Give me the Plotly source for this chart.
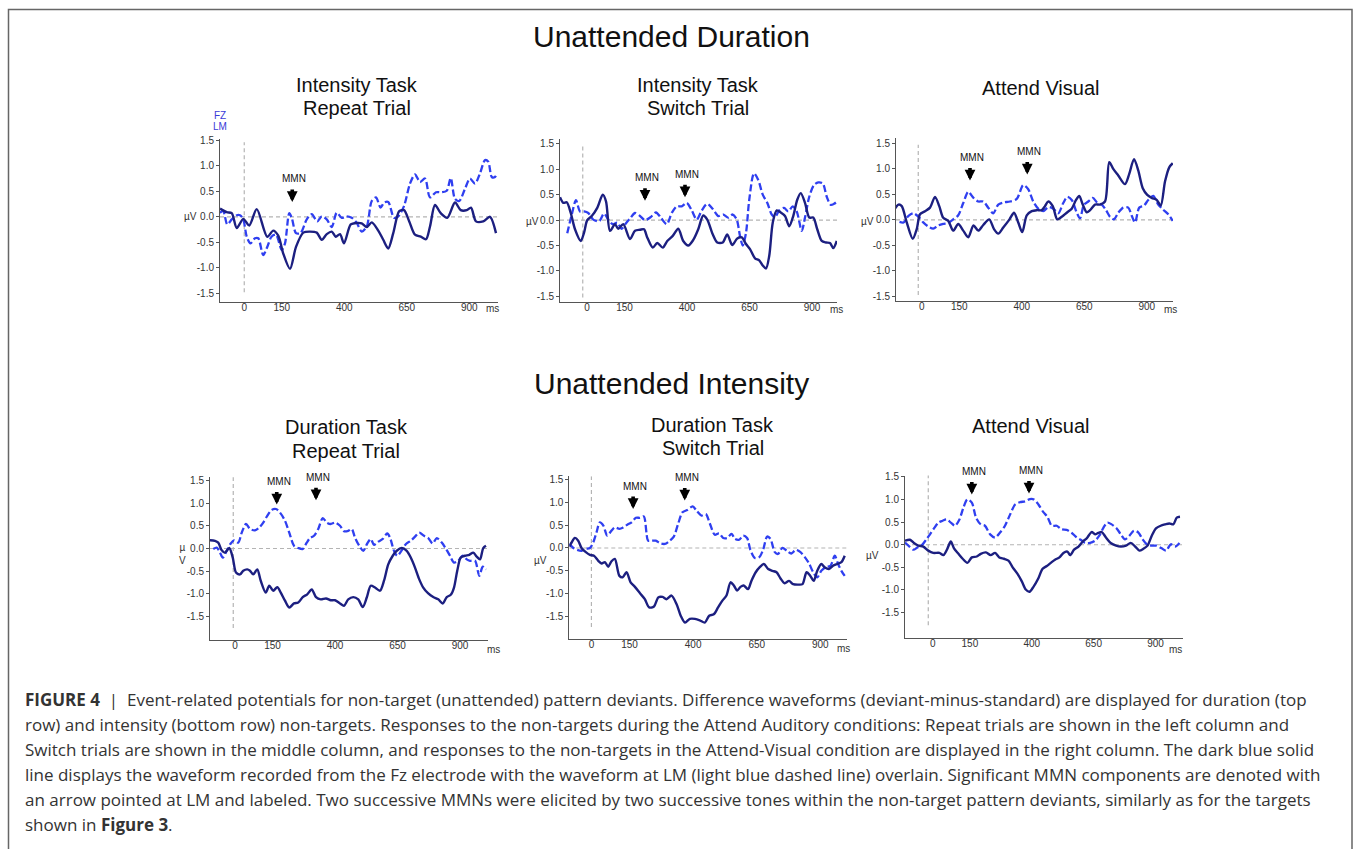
import plotly.graph_objects as go

W, H = 1356, 849

FZ_COLOR = "#1c1f80"
LM_COLOR = "#2f3ff0"
AXIS_COLOR = "#555555"
TEXT_COLOR = "#333333"
REF_LINE = "#b4b4b4"
PLOT_FONT = "Arial, Liberation Sans, sans-serif"
CAPTION_FONT = "Open Sans, Arial, sans-serif"

# ---------------- waveforms: (time in ms, amplitude in µV) ----------------
# Unattended duration / Intensity task / Repeat trial
P1_FZ = [(-97, 0.16), (-70, 0.09), (-50, 0.07), (-30, -0.22), (-4, -0.04), (20, -0.17), (50, 0.15),
         (92, -0.39), (116, -0.27), (136, -0.37), (156, -0.72), (183, -1.02), (207, -0.59), (236, -0.31),
         (263, -0.29), (290, -0.31), (310, -0.45), (330, -0.34), (350, -0.29), (366, -0.39), (383, -0.34),
         (399, -0.52), (426, -0.15), (450, -0.12), (470, -0.13), (490, -0.20), (510, -0.11), (536, -0.27),
         (556, -0.45), (576, -0.62), (596, -0.32), (620, 0.11), (639, 0.13), (660, -0.09), (683, -0.35),
         (706, -0.39), (727, -0.44), (743, -0.19), (763, 0.23), (786, 0.07), (812, -0.02), (843, 0.28),
         (866, 0.13), (890, 0.13), (907, 0.18), (927, -0.09), (956, -0.09), (983, 0.0), (1007, -0.32)]
P1_LM = [(-97, 0.08), (-84, 0.11), (-68, -0.15), (-50, -0.05), (-30, 0.03), (-17, 0.03), (-4, -0.05),
         (10, -0.39), (25, -0.52), (43, -0.42), (56, -0.42), (76, -0.75), (92, -0.59), (109, -0.39),
         (127, -0.35), (150, -0.65), (163, -0.52), (180, 0.07), (190, -0.02), (207, -0.32), (225, -0.32),
         (250, -0.05), (270, 0.05), (292, -0.09), (310, 0.01), (330, -0.05), (350, -0.20), (370, 0.08),
         (390, -0.02), (410, 0.01), (430, -0.02), (450, -0.12), (470, -0.29), (490, -0.19), (510, 0.31),
         (527, 0.38), (545, 0.18), (560, 0.28), (576, 0.29), (599, -0.02), (616, 0.01), (639, 0.21),
         (663, 0.65), (683, 0.83), (703, 0.68), (723, 0.75), (743, 0.38), (767, 0.48), (790, 0.48),
         (810, 0.51), (826, 0.76), (843, 0.35), (860, 0.31), (883, 0.55), (903, 0.75), (923, 0.65),
         (943, 0.85), (963, 1.11), (976, 1.08), (990, 0.78), (1003, 0.78), (1010, 0.85)]

# Unattended duration / Intensity task / Switch trial
P2_FZ = [(-108, 0.45), (-95, 0.34), (-81, 0.35), (-65, 0.14), (-48, -0.18), (-25, -0.41), (-12, -0.25),
         (1, 0.0), (19, 0.08), (41, 0.24), (63, 0.50), (76, 0.37), (92, -0.21), (112, -0.08), (125, -0.17),
         (145, -0.08), (172, -0.37), (192, -0.21), (212, -0.19), (228, -0.18), (241, -0.34), (263, -0.54),
         (281, -0.45), (303, -0.54), (321, -0.41), (343, -0.31), (365, -0.17), (385, -0.41), (405, -0.50),
         (425, -0.39), (445, -0.18), (465, 0.09), (481, 0.01), (503, -0.28), (521, -0.44), (543, -0.44),
         (561, -0.28), (581, -0.49), (601, -0.36), (619, -0.34), (636, -0.47), (652, -0.57), (672, -0.75),
         (689, -0.79), (703, -0.89), (716, -0.95), (729, -0.70), (743, -0.05), (759, 0.19), (775, 0.15),
         (792, 0.08), (809, -0.12), (825, 0.08), (841, 0.40), (855, 0.53), (872, 0.34), (889, 0.05),
         (905, 0.05), (921, -0.18), (939, -0.41), (956, -0.44), (972, -0.45), (985, -0.55), (999, -0.41)]
P2_LM = [(-79, -0.26), (-61, 0.11), (-44, 0.39), (-28, 0.17), (-12, 0.17), (5, 0.14), (25, 0.01),
         (49, -0.02), (68, 0.13), (85, 0.01), (103, -0.08), (121, -0.05), (139, -0.17), (156, -0.06),
         (175, 0.05), (192, 0.14), (212, 0.08), (232, 0.0), (255, 0.06), (276, 0.15), (295, 0.05),
         (319, -0.08), (339, 0.14), (359, 0.27), (379, 0.27), (399, 0.34), (419, 0.19), (439, 0.01),
         (459, 0.19), (481, 0.32), (503, 0.22), (525, 0.08), (545, 0.11), (565, 0.05), (583, 0.11),
         (599, 0.01), (612, -0.31), (623, -0.50), (636, -0.25), (649, 0.40), (668, 0.92), (685, 0.79),
         (703, 0.50), (721, 0.34), (739, 0.11), (752, 0.06), (769, 0.19), (788, 0.24), (805, 0.17),
         (823, 0.27), (839, 0.17), (859, -0.21), (872, 0.05), (889, 0.46), (908, 0.69), (925, 0.74),
         (943, 0.72), (959, 0.46), (975, 0.30), (988, 0.32), (999, 0.36)]

# Unattended duration / Attend visual
P3_FZ = [(-107, 0.22), (-93, 0.30), (-80, 0.27), (-60, -0.05), (-36, -0.37), (-20, -0.18), (-7, 0.11),
         (13, 0.17), (33, 0.24), (53, 0.45), (70, 0.27), (86, 0.04), (106, -0.02), (126, -0.21), (146, -0.08),
         (166, -0.21), (186, -0.34), (207, -0.11), (226, -0.21), (246, -0.10), (270, 0.01), (289, -0.18),
         (306, -0.27), (326, -0.15), (351, 0.01), (369, 0.14), (386, -0.05), (402, -0.24), (420, 0.09),
         (440, 0.17), (460, 0.19), (480, 0.19), (493, 0.27), (506, 0.36), (524, 0.27), (542, 0.01),
         (560, 0.06), (580, 0.14), (600, 0.22), (617, 0.39), (630, 0.47), (644, 0.30), (660, 0.15),
         (673, 0.19), (693, 0.30), (713, 0.30), (733, 0.36), (750, 1.13), (766, 1.00), (786, 0.87),
         (813, 0.70), (830, 0.90), (849, 1.19), (866, 0.97), (884, 0.62), (902, 0.49), (920, 0.43),
         (940, 0.39), (956, 0.28), (973, 0.75), (990, 1.03), (1004, 1.11)]
P3_LM = [(-89, -0.04), (-73, -0.05), (-53, 0.08), (-33, 0.13), (-13, 0.06), (6, -0.05), (26, -0.13),
         (46, -0.17), (66, -0.11), (86, -0.08), (106, -0.06), (126, 0.01), (146, 0.09), (166, 0.33),
         (186, 0.55), (207, 0.43), (226, 0.36), (246, 0.36), (266, 0.24), (286, 0.13), (306, 0.30),
         (326, 0.34), (353, 0.36), (380, 0.41), (406, 0.68), (426, 0.60), (446, 0.36), (466, 0.22),
         (486, 0.17), (506, 0.25), (526, 0.22), (546, 0.13), (566, 0.33), (582, 0.45), (600, 0.39),
         (620, 0.14), (633, 0.03), (649, 0.30), (666, 0.36), (684, 0.43), (703, 0.33), (720, 0.30),
         (737, 0.19), (753, 0.06), (769, 0.01), (786, 0.14), (806, 0.24), (826, 0.24), (840, 0.08),
         (853, -0.05), (870, 0.24), (889, 0.28), (906, 0.39), (926, 0.47), (946, 0.30), (966, 0.20),
         (986, 0.11), (1004, -0.02)]

# Unattended intensity / Duration task / Repeat trial
P4_FZ = [(-100, 0.18), (-80, 0.17), (-67, 0.13), (-53, -0.04), (-40, -0.09), (-23, 0.01), (-9, -0.20),
         (4, -0.53), (20, -0.57), (33, -0.49), (49, -0.46), (60, -0.49), (73, -0.57), (89, -0.46),
         (103, -0.71), (123, -0.97), (137, -0.82), (153, -0.93), (169, -0.85), (183, -0.97), (200, -1.15),
         (217, -1.30), (236, -1.21), (253, -1.19), (271, -1.07), (289, -1.01), (307, -0.90), (324, -1.07),
         (343, -1.12), (364, -1.10), (383, -1.14), (400, -1.14), (420, -1.21), (436, -1.26), (453, -1.12),
         (473, -1.07), (493, -1.12), (511, -1.29), (527, -1.08), (543, -0.82), (560, -0.86), (580, -0.93),
         (596, -0.71), (613, -0.35), (631, -0.16), (647, -0.05), (667, 0.01), (687, -0.05), (703, -0.20),
         (720, -0.42), (737, -0.68), (753, -0.86), (773, -0.99), (793, -1.07), (813, -1.12), (831, -1.21),
         (847, -1.07), (863, -1.02), (876, -0.86), (889, -0.49), (903, -0.20), (920, -0.16), (937, -0.14),
         (953, -0.09), (967, -0.18), (980, -0.24), (993, 0.01), (1004, 0.06)]
P4_LM = [(-87, -0.01), (-73, 0.02), (-60, -0.09), (-49, -0.20), (-33, -0.05), (-17, 0.11), (-4, 0.18),
         (13, 0.13), (27, 0.35), (44, 0.54), (60, 0.43), (80, 0.40), (97, 0.46), (113, 0.57), (129, 0.72),
         (147, 0.85), (164, 0.87), (180, 0.79), (200, 0.61), (217, 0.35), (236, 0.06), (253, 0.01),
         (271, -0.01), (287, 0.13), (300, 0.23), (316, 0.28), (333, 0.43), (351, 0.67), (367, 0.57),
         (383, 0.54), (400, 0.57), (420, 0.50), (436, 0.38), (453, 0.39), (467, 0.43), (480, 0.24),
         (497, 0.06), (513, -0.05), (529, 0.11), (543, 0.21), (556, 0.08), (573, 0.15), (591, 0.21),
         (609, 0.33), (620, 0.24), (636, -0.05), (649, -0.16), (667, -0.04), (684, 0.10), (703, 0.17),
         (720, 0.26), (737, 0.35), (756, 0.28), (773, 0.23), (791, 0.11), (807, 0.23), (827, 0.13),
         (844, -0.01), (860, -0.16), (876, -0.31), (893, -0.27), (911, -0.16), (927, -0.24), (940, -0.27),
         (960, -0.27), (977, -0.60), (991, -0.40), (1004, -0.46)]

# Unattended intensity / Duration task / Switch trial
P5_FZ = [(-87, 0.03), (-78, 0.12), (-65, 0.22), (-52, 0.16), (-39, 0.0), (-22, -0.09), (-6, -0.15),
         (10, -0.17), (27, -0.28), (40, -0.34), (53, -0.31), (66, -0.41), (79, -0.29), (92, -0.24),
         (110, -0.61), (123, -0.64), (138, -0.53), (154, -0.75), (171, -0.85), (191, -0.99), (210, -1.12),
         (227, -1.30), (246, -1.28), (263, -1.08), (280, -1.07), (295, -1.12), (315, -1.04), (335, -1.23),
         (351, -1.48), (368, -1.63), (387, -1.55), (407, -1.55), (426, -1.58), (446, -1.63), (463, -1.48),
         (481, -1.45), (498, -1.30), (515, -1.15), (531, -1.04), (547, -0.75), (560, -0.82), (573, -0.93),
         (586, -0.85), (599, -0.82), (616, -0.90), (629, -0.72), (646, -0.53), (662, -0.42), (678, -0.35),
         (695, -0.46), (712, -0.50), (728, -0.53), (743, -0.66), (760, -0.77), (777, -0.72), (793, -0.79),
         (813, -0.80), (830, -0.79), (846, -0.53), (861, -0.61), (874, -0.72), (888, -0.50), (904, -0.35),
         (917, -0.42), (934, -0.46), (950, -0.39), (966, -0.35), (983, -0.31), (996, -0.17)]
P5_LM = [(-87, 0.09), (-71, 0.0), (-56, -0.04), (-39, -0.06), (-22, -0.02), (-6, 0.0), (7, 0.12),
         (20, 0.34), (33, 0.56), (47, 0.49), (62, 0.27), (79, 0.38), (92, 0.45), (110, 0.42), (125, 0.45),
         (141, 0.51), (158, 0.56), (175, 0.66), (191, 0.66), (206, 0.69), (223, 0.16), (236, 0.16),
         (253, 0.16), (272, 0.10), (289, 0.09), (306, 0.15), (324, 0.25), (341, 0.53), (358, 0.78),
         (377, 0.83), (398, 0.91), (413, 0.82), (433, 0.71), (450, 0.74), (466, 0.53), (485, 0.29),
         (502, 0.32), (518, 0.22), (534, 0.22), (551, 0.31), (564, 0.20), (581, 0.18), (597, 0.27),
         (612, 0.22), (625, -0.04), (643, -0.22), (660, -0.20), (675, -0.04), (691, 0.25), (704, 0.20),
         (721, -0.09), (734, -0.13), (751, 0.0), (770, -0.07), (786, -0.12), (804, -0.04), (822, -0.09),
         (839, -0.20), (856, -0.34), (872, -0.53), (888, -0.64), (904, -0.50), (921, -0.42), (940, -0.39),
         (957, -0.17), (970, -0.35), (983, -0.50), (996, -0.61)]

# Unattended intensity / Attend visual
P6_FZ = [(-112, 0.09), (-92, 0.11), (-76, 0.04), (-58, -0.02), (-38, -0.04), (-18, -0.13), (2, -0.18),
         (27, -0.18), (43, -0.23), (59, -0.09), (73, 0.07), (86, -0.08), (104, -0.20), (121, -0.31),
         (140, -0.40), (158, -0.28), (178, -0.26), (194, -0.20), (215, -0.17), (234, -0.23), (252, -0.18),
         (269, -0.28), (288, -0.31), (306, -0.35), (323, -0.50), (342, -0.64), (360, -0.81), (376, -0.99),
         (391, -1.04), (407, -0.93), (427, -0.74), (444, -0.53), (461, -0.47), (477, -0.40), (494, -0.33),
         (512, -0.28), (528, -0.18), (544, -0.15), (555, -0.23), (571, -0.11), (589, -0.04), (606, 0.07),
         (622, 0.14), (642, 0.28), (656, 0.23), (669, 0.26), (683, 0.28), (700, 0.16), (719, 0.04),
         (741, -0.02), (760, -0.04), (781, -0.02), (800, 0.04), (818, -0.04), (835, -0.13), (851, -0.09),
         (868, -0.02), (885, 0.20), (902, 0.36), (921, 0.42), (939, 0.45), (956, 0.47), (972, 0.45),
         (986, 0.60), (999, 0.62)]
P6_LM = [(-112, 0.05), (-94, -0.04), (-78, -0.11), (-62, -0.06), (-44, -0.01), (-27, 0.11), (-11, 0.23),
         (5, 0.36), (23, 0.49), (40, 0.53), (56, 0.56), (73, 0.49), (90, 0.42), (108, 0.56), (124, 0.82),
         (140, 1.00), (158, 0.93), (175, 0.60), (194, 0.45), (211, 0.42), (232, 0.23), (252, 0.16),
         (272, 0.27), (292, 0.42), (312, 0.66), (333, 0.89), (353, 0.94), (373, 0.96), (393, 1.01),
         (409, 1.00), (427, 0.89), (447, 0.72), (463, 0.62), (481, 0.42), (501, 0.42), (521, 0.34),
         (541, 0.33), (562, 0.26), (582, 0.16), (598, 0.11), (616, 0.04), (636, 0.04), (656, 0.09),
         (673, 0.20), (690, 0.38), (706, 0.49), (723, 0.45), (743, 0.36), (760, 0.23), (777, 0.12),
         (795, 0.20), (813, 0.31), (831, 0.27), (848, 0.12), (865, 0.01), (885, -0.02), (905, -0.02),
         (925, -0.08), (943, -0.13), (962, 0.01), (979, -0.04), (997, 0.04)]

FZ_SERIES = [P1_FZ, P2_FZ, P3_FZ, P4_FZ, P5_FZ, P6_FZ]
LM_SERIES = [P1_LM, P2_LM, P3_LM, P4_LM, P5_LM, P6_LM]

ROW_TITLES = ["Unattended Duration", "Unattended Intensity"]
PANEL_TITLES = [["Intensity Task", "Repeat Trial"], ["Intensity Task", "Switch Trial"], ["Attend Visual"],
                ["Duration Task", "Repeat Trial"], ["Duration Task", "Switch Trial"], ["Attend Visual"]]

# MMN arrows: latency (ms) and the LM amplitude the arrow points at (µV)
MMN_LATENCY = [[192], [232, 392], [193, 422], [167, 324], [164, 367], [158, 389]]
MMN_TIP = [[0.29], [0.38, 0.45], [0.77, 0.89], [0.97, 1.06], [0.85, 1.04], [1.11, 1.13]]

# stimulus-onset marker position per panel (ms)
ONSET_MS = [0, -17, -14, -7, 0, -18]

Y_TICKS = [-1.5, -1.0, -0.5, 0.0, 0.5, 1.0, 1.5]
Y_TICK_TEXT = ["-1.5", "-1.0", "-0.5", "0.0", "0.5", "1.0", "1.5"]
X_TICKS = [0, 150, 400, 650, 900]
X_TICK_TEXT = ["0", "150", "400", "650", "900"]

CAPTION = [
    "<b>FIGURE 4</b>  |  Event-related potentials for non-target (unattended) pattern deviants. Difference waveforms (deviant-minus-standard) are displayed for duration (top",
    "row) and intensity (bottom row) non-targets. Responses to the non-targets during the Attend Auditory conditions: Repeat trials are shown in the left column and",
    "Switch trials are shown in the middle column, and responses to the non-targets in the Attend-Visual condition are displayed in the right column. The dark blue solid",
    "line displays the waveform recorded from the Fz electrode with the waveform at LM (light blue dashed line) overlain. Significant MMN components are denoted with",
    "an arrow pointed at LM and labeled. Two successive MMNs were elicited by two successive tones within the non-target pattern deviants, similarly as for the targets",
    "shown in <b>Figure 3</b>.",
]

# ---------------- panel geometry (pixels on the page) ----------------
GEOM = [
    dict(px=(220, 498), py=(136, 299.3), xr=(-97, 1015), yr=(-1.66, 1.52), vl=(-1.48, 1.46),
         tx=357, ty=[81, 105], uv=(191, 214), ms=(492, 306.5)),
    dict(px=(560, 837), py=(136, 299.3), xr=(-108, 1000), yr=(-1.60, 1.59), vl=(-1.52, 1.48),
         tx=698, ty=[81, 105], uv=(532, 219), ms=(836, 307.5)),
    dict(px=(896, 1173), py=(135, 298.3), xr=(-103, 1005), yr=(-1.58, 1.60), vl=(-1.47, 1.47),
         tx=1041, ty=[84], uv=(867, 219), ms=(1170, 307.5)),
    dict(px=(210, 488), py=(476, 640), xr=(-100, 1012), yr=(-2.02, 1.57), vl=(-1.75, 1.63),
         tx=346, ty=[426, 450], uv=(182, 553), ms=(493, 649)),
    dict(px=(569.3, 847), py=(475, 638.3), xr=(-87, 1005), yr=(-1.98, 1.57), vl=(-1.73, 1.57),
         tx=713, ty=[423, 447], uv=(540, 560), ms=(843, 648)),
    dict(px=(905, 1182.7), py=(474.3, 637.7), xr=(-112, 1010), yr=(-2.06, 1.53), vl=(-1.78, 1.63),
         tx=1031, ty=[424], uv=(873, 555), ms=(1175, 649)),
]


def fx(p):
    return p / W


def fy(p):
    return 1 - p / H


fig = go.Figure()
annotations = []
shapes = []
layout_axes = {}

for i, g in enumerate(GEOM):
    n = i + 1
    xa = "x" if n == 1 else f"x{n}"
    ya = "y" if n == 1 else f"y{n}"
    xkey = "xaxis" if n == 1 else f"xaxis{n}"
    ykey = "yaxis" if n == 1 else f"yaxis{n}"

    layout_axes[xkey] = dict(
        domain=[fx(g["px"][0]), fx(g["px"][1])], range=list(g["xr"]), anchor=ya,
        showgrid=False, zeroline=False, showline=True, linecolor=AXIS_COLOR, linewidth=1,
        ticks="", tickvals=X_TICKS, ticktext=X_TICK_TEXT, ticklabelstandoff=-4,
        tickfont=dict(family=PLOT_FONT, size=10, color=TEXT_COLOR), fixedrange=True,
    )
    layout_axes[ykey] = dict(
        domain=[fy(g["py"][1]), fy(g["py"][0])], range=list(g["yr"]), anchor=xa,
        showgrid=False, zeroline=False, showline=True, linecolor=AXIS_COLOR, linewidth=1,
        ticks="outside", ticklen=3, tickwidth=1, tickcolor=AXIS_COLOR,
        tickvals=Y_TICKS, ticktext=Y_TICK_TEXT,
        tickfont=dict(family=PLOT_FONT, size=10, color=TEXT_COLOR), fixedrange=True,
    )

    # reference lines: zero baseline and stimulus onset
    shapes.append(dict(type="line", xref=xa, yref=ya, x0=g["xr"][0], x1=g["xr"][1], y0=0, y1=0,
                       line=dict(color=REF_LINE, width=1.2, dash="4px,3px"), layer="below"))
    shapes.append(dict(type="line", xref=xa, yref=ya, x0=ONSET_MS[i], x1=ONSET_MS[i],
                       y0=g["vl"][0], y1=g["vl"][1],
                       line=dict(color=REF_LINE, width=1.2, dash="4px,3px"), layer="below"))

    fz = FZ_SERIES[i]
    lm = LM_SERIES[i]
    fig.add_trace(go.Scatter(x=[p[0] for p in lm], y=[p[1] for p in lm], xaxis=xa, yaxis=ya,
                             mode="lines", line=dict(color=LM_COLOR, width=2.3, dash="7px,3px",
                                                     shape="spline", smoothing=0.8),
                             hoverinfo="skip", name="LM"))
    fig.add_trace(go.Scatter(x=[p[0] for p in fz], y=[p[1] for p in fz], xaxis=xa, yaxis=ya,
                             mode="lines", line=dict(color=FZ_COLOR, width=2.4,
                                                     shape="spline", smoothing=0.8),
                             hoverinfo="skip", name="FZ"))

    # MMN arrows and labels
    for lat, tip in zip(MMN_LATENCY[i], MMN_TIP[i]):
        annotations.append(dict(xref=xa, yref=ya, x=lat, y=tip, ax=0, ay=-14, text="",
                                showarrow=True, arrowhead=2, arrowsize=0.6, arrowwidth=3.6,
                                arrowcolor="#000000", standoff=0, startstandoff=0))
        annotations.append(dict(xref=xa, yref=ya, x=lat, y=tip, yshift=23, xshift=2, text="MMN",
                                showarrow=False, xanchor="center", yanchor="middle",
                                font=dict(family=PLOT_FONT, size=10, color="#111111")))

    # panel titles
    for line, ypix in zip(PANEL_TITLES[i], g["ty"]):
        annotations.append(dict(xref="paper", yref="paper", x=fx(g["tx"]), y=fy(ypix), text=line,
                                showarrow=False, xanchor="center", yanchor="middle",
                                font=dict(family=PLOT_FONT, size=20, color="#111111")))

    # unit labels
    uv_text = "µ<br>V" if n == 4 else "µV"
    annotations.append(dict(xref="paper", yref="paper", x=fx(g["uv"][0]), y=fy(g["uv"][1]), text=uv_text,
                            showarrow=False, xanchor="center", yanchor="middle",
                            font=dict(family=PLOT_FONT, size=10, color=TEXT_COLOR)))
    annotations.append(dict(xref="paper", yref="paper", x=fx(g["ms"][0]), y=fy(g["ms"][1]), text="ms",
                            showarrow=False, xanchor="center", yanchor="middle",
                            font=dict(family=PLOT_FONT, size=10, color=TEXT_COLOR)))

# row headings
for title, ypix in zip(ROW_TITLES, [33, 382]):
    annotations.append(dict(xref="paper", yref="paper", x=fx(671), y=fy(ypix), text=title,
                            showarrow=False, xanchor="center", yanchor="middle",
                            font=dict(family=PLOT_FONT, size=30, color="#111111")))

# electrode key
for label, ypix in zip(["FZ", "LM"], [112, 123]):
    annotations.append(dict(xref="paper", yref="paper", x=fx(220), y=fy(ypix), text=label,
                            showarrow=False, xanchor="center", yanchor="middle",
                            font=dict(family=PLOT_FONT, size=10, color="#3a3ad8")))

# figure caption
for k, line in enumerate(CAPTION):
    annotations.append(dict(xref="paper", yref="paper", x=fx(23), y=fy(700 + 25 * k), text=line,
                            showarrow=False, xanchor="left", yanchor="middle", align="left",
                            font=dict(family=CAPTION_FONT, size=17, color=TEXT_COLOR)))

# outer frame
shapes.append(dict(type="rect", xref="paper", yref="paper", x0=fx(8.5), x1=fx(1352), y0=fy(860), y1=fy(5.5),
                   line=dict(color="#666666", width=1.5), fillcolor="rgba(0,0,0,0)"))

fig.update_layout(
    width=W, height=H, autosize=False,
    margin=dict(l=0, r=0, t=0, b=0),
    paper_bgcolor="white", plot_bgcolor="white",
    showlegend=False,
    annotations=annotations, shapes=shapes,
    **layout_axes,
)

fig.write_html("out.html", config={"displayModeBar": False})
